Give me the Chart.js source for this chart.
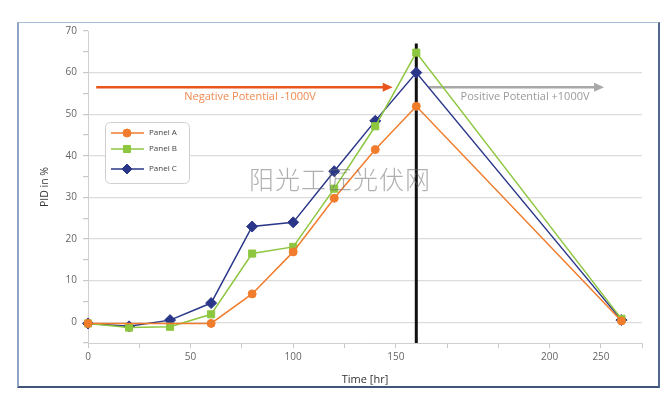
<!DOCTYPE html>
<html>
<head>
<meta charset="utf-8">
<script src="https://cdn.jsdelivr.net/npm/chart.js@4/dist/chart.umd.min.js"></script>
<style>
  html, body { margin: 0; padding: 0; background: #fff; }
  #wrap { position: relative; width: 672px; height: 395px; }
  #frame {
    position: absolute; left: 17px; top: 22px; width: 639px; height: 363px;
    border-top: 1px solid #a9bcd8; border-left: 2px solid #8fa4c6;
    border-right: 2px solid #52688c; border-bottom: 2px solid #405678;
  }
  #chart { position: absolute; left: 0; top: 0; }
  #mark {
    position: absolute; left: 249px; top: 160px;
    font-family: "Noto Sans CJK SC"; font-weight: 300; font-size: 25px; letter-spacing: 1px;
    color: rgba(110,110,110,0.55); pointer-events: none;
  }
</style>
</head>
<body>
<div id="wrap">
  <div id="frame"></div>
  <canvas id="chart" width="672" height="395"></canvas>
  <div id="mark">阳光工匠光伏网</div>
</div>
<script>
// ---------------------------------------------------------
// DATA
// ---------------------------------------------------------
const timeHr = [0, 20, 40, 60, 80, 100, 120, 140, 160, 260];
const panelA = [-0.3, -0.3, -0.3, -0.3, 6.8, 16.9, 29.8, 41.5, 51.9, 0.3];
const panelB = [-0.3, -1.3, -1.1, 1.9, 16.5, 18.1, 32.1, 47.1, 64.8, 0.8];
const panelC = [-0.3, -1.0, 0.5, 4.6, 23.0, 24.0, 36.3, 48.4, 60.0, 0.5];
// x tick value -> printed label (the source axis prints "200" at 225)
const xTickLabels = { 0: '0', 50: '50', 100: '100', 150: '150', 225: '200', 250: '250' };

const ORANGE = '#f07c2c';
const GREEN = '#8dc63f';
const NAVY = '#2a3789';
const FONT = 'Open Sans';

const toXY = vals => vals.map((v, i) => ({ x: timeHr[i], y: v }));

// ---------------------------------------------------------
// OVERLAYS: switch line, potential arrows, legend box
// ---------------------------------------------------------
function arrow(ctx, x1, x2, y, color) {
    ctx.save();
    ctx.strokeStyle = color;
    ctx.fillStyle = color;
    ctx.lineWidth = 2.5;
    ctx.beginPath();
    ctx.moveTo(x1, y);
    ctx.lineTo(x2 - 8, y);
    ctx.stroke();
    ctx.beginPath();
    ctx.moveTo(x2, y);
    ctx.lineTo(x2 - 10, y - 4.5);
    ctx.lineTo(x2 - 10, y + 4.5);
    ctx.closePath();
    ctx.fill();
    ctx.restore();
}

const overlayPlugin = {
    id: 'overlay',
    beforeDatasetsDraw(chart) {
        const { ctx, scales: { x, y } } = chart;
        // potential switch at 160 hr
        ctx.save();
        ctx.strokeStyle = '#111';
        ctx.lineWidth = 3;
        ctx.beginPath();
        ctx.moveTo(x.getPixelForValue(160), y.getPixelForValue(67));
        ctx.lineTo(x.getPixelForValue(160), y.getPixelForValue(-5));
        ctx.stroke();
        ctx.restore();

        const ay = y.getPixelForValue(56.5);
        arrow(ctx, x.getPixelForValue(4), x.getPixelForValue(148.5), ay, '#e8561e');
        arrow(ctx, x.getPixelForValue(166), x.getPixelForValue(251.5), ay, '#a8a8a8');

        ctx.save();
        ctx.font = `11px "${FONT}"`;
        ctx.textAlign = 'center';
        ctx.textBaseline = 'middle';
        ctx.fillStyle = '#f08a50';
        ctx.fillText('Negative Potential -1000V', x.getPixelForValue(79), ay + 10);
        ctx.fillStyle = '#9a9a9a';
        ctx.fillText('Positive Potential +1000V', x.getPixelForValue(213), ay + 10);
        ctx.restore();
    },
    afterDatasetsDraw(chart) {
        const { ctx } = chart;
        const bx = 105, by = 122, bw = 84, bh = 61;
        ctx.save();
        ctx.fillStyle = '#fff';
        ctx.strokeStyle = '#cfcfcf';
        ctx.lineWidth = 1;
        ctx.beginPath();
        ctx.roundRect(bx + 0.5, by + 0.5, bw, bh, 5);
        ctx.fill();
        ctx.stroke();

        const items = [
            { text: 'Panel A', color: ORANGE, style: 'circle', r: 4, y: 133 },
            { text: 'Panel B', color: GREEN, style: 'rect', r: 5, y: 149 },
            { text: 'Panel C', color: NAVY, style: 'rectRot', r: 5, y: 169 }
        ];
        items.forEach(it => {
            ctx.strokeStyle = it.color;
            ctx.lineWidth = 1.5;
            ctx.beginPath();
            ctx.moveTo(111, it.y);
            ctx.lineTo(144, it.y);
            ctx.stroke();
            ctx.fillStyle = it.color;
            ctx.lineWidth = 1;
            Chart.helpers.drawPoint(ctx, { pointStyle: it.style, radius: it.r, borderWidth: 1 }, 127, it.y);
            ctx.fillStyle = '#444';
            ctx.font = `8px "${FONT}"`;
            ctx.textBaseline = 'middle';
            ctx.fillText(it.text, 149, it.y);
        });
        ctx.restore();
    }
};

// ---------------------------------------------------------
// CHART
// ---------------------------------------------------------
function series(label, vals, color, style, radius) {
    return {
        label: label,
        data: toXY(vals),
        borderColor: color,
        backgroundColor: color,
        borderWidth: 1.5,
        pointStyle: style,
        pointRadius: radius,
        pointBorderWidth: 1,
        tension: 0,
        clip: false
    };
}

// Panel A markers at 20 h and 40 h sit hidden under the other panels
const seriesA = series('Panel A', panelA, ORANGE, 'circle', 4);
seriesA.pointRadius = timeHr.map(t => (t === 20 || t === 40) ? 0 : 4);

new Chart(document.getElementById('chart'), {
    type: 'line',
    data: {
        datasets: [
            seriesA,
            series('Panel B', panelB, GREEN, 'rect', 5),
            series('Panel C', panelC, NAVY, 'rectRot', 5.5)
        ]
    },
    options: {
        responsive: false,
        animation: false,
        layout: { padding: { left: 36, top: 31, right: 30, bottom: 8 } },
        plugins: {
            legend: { display: false },
            tooltip: { enabled: false }
        },
        scales: {
            x: {
                type: 'linear',
                min: 0,
                max: 270,
                afterFit: s => { s.height = 44; },
                border: { color: '#d0d0d0', width: 1 },
                grid: { drawOnChartArea: false, drawTicks: true, tickLength: 5, tickColor: '#c8c8c8' },
                ticks: {
                    stepSize: 25,
                    autoSkip: false,
                    maxRotation: 0,
                    padding: 3,
                    color: '#666',
                    font: { family: FONT, size: 10 },
                    callback: v => xTickLabels[v] !== undefined ? xTickLabels[v] : ''
                },
                title: {
                    display: true,
                    text: 'Time [hr]',
                    color: '#333',
                    font: { family: FONT, size: 11 },
                    padding: { top: 2, bottom: 1 }
                }
            },
            y: {
                min: -5,
                max: 70,
                afterFit: s => { s.width = 52; },
                border: { color: '#d0d0d0', width: 1 },
                grid: {
                    color: c => (c.tick.value % 10 === 0 && c.tick.value >= 0 && c.tick.value < 70) ? '#dcdcdc' : 'rgba(0,0,0,0)',
                    tickColor: '#c8c8c8',
                    tickLength: 5,
                    lineWidth: 1.2
                },
                ticks: {
                    stepSize: 5,
                    padding: 6,
                    color: '#666',
                    font: { family: FONT, size: 10 },
                    callback: v => v % 10 === 0 ? String(v) : ''
                },
                title: {
                    display: true,
                    text: 'PID in %',
                    color: '#333',
                    font: { family: FONT, size: 10.5 },
                    padding: { top: 3, bottom: 4 }
                }
            }
        }
    },
    plugins: [overlayPlugin]
});
</script>
</body>
</html>
